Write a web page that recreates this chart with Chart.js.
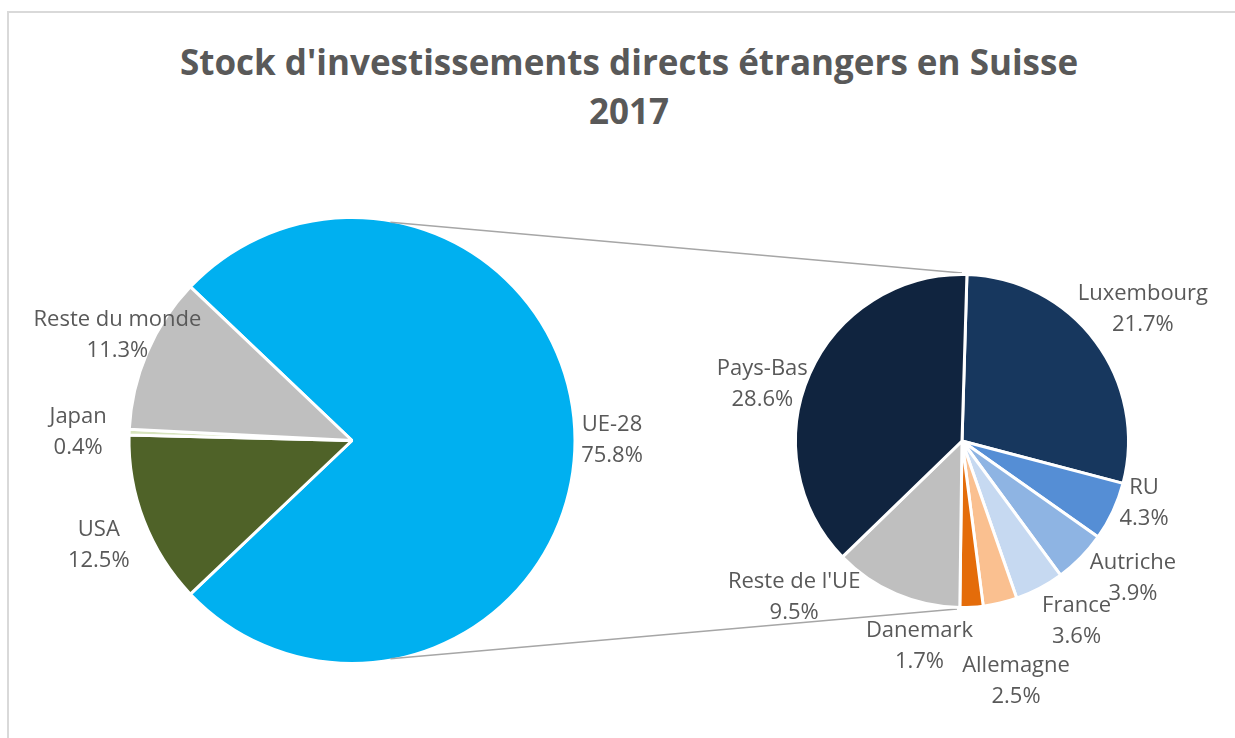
<!DOCTYPE html>
<html lang="fr">
<head>
<meta charset="utf-8">
<title>Stock d'investissements directs étrangers en Suisse 2017</title>
<script src="https://cdn.jsdelivr.net/npm/chart.js@4.4.1/dist/chart.umd.min.js"></script>
<style>
  html, body { margin: 0; padding: 0; background: #fff; overflow: hidden; }
  #wrap { position: relative; width: 1235px; height: 738px; overflow: hidden; }
  #cadre { position: absolute; left: 7px; top: 11px; width: 1300px; height: 800px; border: 2px solid #d9d9d9; box-sizing: border-box; }
  #titre { position: absolute; left: 0; top: 37px; width: 1258px; text-align: center;
           font: bold 35px 'Open Sans', sans-serif; line-height: 49px; color: #595959; }
  canvas { position: absolute; left: 0; top: 0; }
</style>
</head>
<body>
<div id="wrap">
  <div id="cadre"></div>
  <div id="titre">Stock d'investissements directs étrangers en Suisse<br>2017</div>
  <canvas id="pieMonde" width="1235" height="738"></canvas>
  <canvas id="pieUE" width="1235" height="738"></canvas>
</div>
<script>
// données (en % du stock total)
const categoriesMonde = ['UE-28', 'USA', 'Japan', 'Reste du monde'];
const valeursMonde = [75.8, 12.5, 0.4, 11.3];
const categoriesUE = ['Luxembourg', 'RU', 'Autriche', 'France', 'Allemagne', 'Danemark', "Reste de l'UE", 'Pays-Bas'];
const valeursUE = [21.7, 4.3, 3.9, 3.6, 2.5, 1.7, 9.5, 28.6];

const couleursMonde = ['#00B0F0', '#4F6228', '#D7E4BD', '#BFBFBF'];
const couleursUE = ['#17375E', '#558ED5', '#8EB4E3', '#C6D9F1', '#FAC090', '#E46C0A', '#BFBFBF', '#10243F'];

// placement des étiquettes : distance au bord (px) et décalage angulaire (degrés)
const ecartMonde = [37, 51, 51, 34];
const decalMonde = [0, -1.4, -0.4, 0.9];
const ecartUE = [57, 26, 53, 47, 80, 43, 63, 41];
const decalUE = [0.8, -6, -5.6, -4.7, 0.6, 15, 23.7, -8];

const somme = arr => arr.reduce((a, b) => a + b, 0);
const rad = d => d * Math.PI / 180;

const etiquettes = {
  id: 'etiquettes',
  afterDatasetsDraw(chart, args, opts) {
    const ctx = chart.ctx;
    const valeurs = chart.data.datasets[0].data;
    ctx.save();
    ctx.font = '22px "Open Sans", sans-serif';
    ctx.fillStyle = '#595959';
    ctx.textAlign = 'center';
    ctx.textBaseline = 'middle';
    chart.getDatasetMeta(0).data.forEach((arc, i) => {
      const milieu = (arc.startAngle + arc.endAngle) / 2 + rad(opts.decal[i]);
      const d = arc.outerRadius + opts.ecart[i];
      const x = arc.x + Math.cos(milieu) * d;
      const y = arc.y + Math.sin(milieu) * d;
      ctx.fillText(chart.data.labels[i], x, y - 15.5);
      ctx.fillText(valeurs[i].toFixed(1) + '%', x, y + 15.5);
    });
    ctx.restore();
  }
};

const chartMonde = new Chart(document.getElementById('pieMonde'), {
  type: 'pie',
  data: {
    labels: categoriesMonde,
    datasets: [{ data: valeursMonde, backgroundColor: couleursMonde, borderColor: '#ffffff', borderWidth: 3 }]
  },
  options: {
    responsive: false,
    animation: false,
    events: [],
    radius: 223,
    rotation: 90 - valeursMonde[0] / somme(valeursMonde) * 180,
    layout: { padding: { left: 130, right: 661, top: 219, bottom: 76 } },
    plugins: {
      legend: { display: false },
      tooltip: { enabled: false },
      etiquettes: { ecart: ecartMonde, decal: decalMonde }
    }
  },
  plugins: [etiquettes]
});

// lignes de liaison entre la part UE-28 et le second camembert
const liaisons = {
  id: 'liaisons',
  beforeDatasetsDraw(chart) {
    const a = chartMonde.getDatasetMeta(0).data[0];
    const b = chart.getDatasetMeta(0).data[0];
    const rA = a.outerRadius - 1.5;
    const rB = b.outerRadius + 1.5;
    const ang = rad(10);
    const ctx = chart.ctx;
    ctx.save();
    ctx.strokeStyle = '#A6A6A6';
    ctx.lineWidth = 1.5;
    ctx.beginPath();
    ctx.moveTo(a.x + rA * Math.sin(ang), a.y - rA * Math.cos(ang));
    ctx.lineTo(b.x, b.y - rB);
    ctx.moveTo(a.x + rA * Math.sin(ang), a.y + rA * Math.cos(ang));
    ctx.lineTo(b.x + rB * Math.cos(b.startAngle + Math.PI), b.y + rB * Math.sin(b.startAngle + Math.PI));
    ctx.stroke();
    ctx.restore();
  }
};

new Chart(document.getElementById('pieUE'), {
  type: 'pie',
  data: {
    labels: categoriesUE,
    datasets: [{ data: valeursUE, backgroundColor: couleursUE, borderColor: '#ffffff', borderWidth: 3 }]
  },
  options: {
    responsive: false,
    animation: false,
    events: [],
    radius: 166.5,
    rotation: 1.7,
    layout: { padding: { left: 797, right: 108, top: 276, bottom: 132 } },
    plugins: {
      legend: { display: false },
      tooltip: { enabled: false },
      etiquettes: { ecart: ecartUE, decal: decalUE }
    }
  },
  plugins: [liaisons, etiquettes]
});
</script>
</body>
</html>
